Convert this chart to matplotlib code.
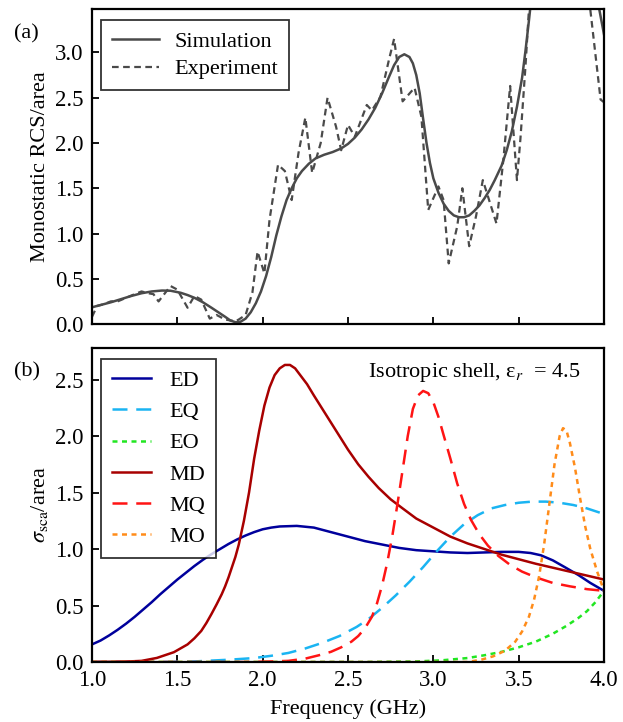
import matplotlib
matplotlib.use("Agg")
import matplotlib.pyplot as plt

plt.rcParams['font.family'] = ['Liberation Serif', 'DejaVu Serif']
plt.rcParams['mathtext.fontset'] = 'stix'
plt.rcParams['font.size'] = 16

# %% panel (a): monostatic RCS
sim_f = [1.00, 1.05, 1.11, 1.17, 1.23, 1.29, 1.35, 1.41, 1.46, 1.52, 1.56, 1.60, 1.65,
         1.70, 1.74, 1.78, 1.81, 1.84, 1.87, 1.90, 1.93, 1.96, 1.99, 2.02, 2.05, 2.08,
         2.11, 2.14, 2.17, 2.20, 2.23, 2.27, 2.31, 2.36, 2.41, 2.46, 2.50, 2.54, 2.58,
         2.62, 2.66, 2.70, 2.74, 2.77, 2.80, 2.83, 2.86, 2.88, 2.90, 2.92, 2.94, 2.96,
         2.98, 3.00, 3.03, 3.06, 3.09, 3.12, 3.15, 3.18, 3.21, 3.24, 3.27, 3.30, 3.33,
         3.36, 3.40, 3.43, 3.46, 3.49, 3.52, 3.54, 3.56, 3.58, 3.65, 3.80, 3.92, 3.96,
         4.00]
sim_rcs = [0.185, 0.21, 0.24, 0.275, 0.31, 0.34, 0.36, 0.37, 0.368, 0.345, 0.32, 0.29, 0.24,
           0.18, 0.13, 0.08, 0.04, 0.02, 0.025, 0.06, 0.13, 0.23, 0.36, 0.53, 0.74, 0.98,
           1.19, 1.37, 1.50, 1.61, 1.69, 1.77, 1.83, 1.87, 1.90, 1.94, 1.99, 2.06, 2.15,
           2.26, 2.39, 2.55, 2.73, 2.86, 2.95, 2.98, 2.95, 2.88, 2.75, 2.55, 2.27, 2.00,
           1.78, 1.61, 1.45, 1.33, 1.25, 1.20, 1.18, 1.18, 1.20, 1.25, 1.31, 1.39, 1.48,
           1.59, 1.75, 1.92, 2.13, 2.40, 2.72, 3.02, 3.35, 3.70, 4.5, 5.0, 4.3, 3.6,
           3.2]

exp_f = [1.00, 1.03, 1.07, 1.11, 1.15, 1.20, 1.25, 1.29, 1.33, 1.36, 1.39, 1.46, 1.50,
         1.56, 1.60, 1.64, 1.69, 1.73, 1.78, 1.84, 1.86, 1.90, 1.94, 1.97, 2.01, 2.04,
         2.09, 2.13, 2.17, 2.21, 2.25, 2.29, 2.34, 2.38, 2.43, 2.46, 2.50, 2.54, 2.61,
         2.64, 2.69, 2.74, 2.77, 2.82, 2.89, 2.93, 2.97, 3.03, 3.06, 3.09, 3.14, 3.17,
         3.21, 3.25, 3.29, 3.32, 3.37, 3.41, 3.45, 3.47, 3.49, 3.51, 3.54, 3.56, 3.65,
         3.80, 3.92, 3.98, 4.00]
exp_rcs = [0.08, 0.20, 0.22, 0.25, 0.25, 0.29, 0.33, 0.36, 0.34, 0.33, 0.25, 0.42, 0.38,
           0.18, 0.31, 0.27, 0.06, 0.10, 0.05, 0.03, 0.05, 0.10, 0.35, 0.80, 0.56, 1.15,
           1.76, 1.69, 1.37, 1.89, 2.28, 1.67, 2.00, 2.50, 2.18, 1.92, 2.20, 2.07, 2.42,
           2.36, 2.51, 2.92, 3.15, 2.46, 2.61, 2.29, 1.26, 1.52, 1.37, 0.67, 1.08, 1.50,
           0.86, 1.19, 1.59, 1.41, 1.11, 1.81, 2.63, 2.11, 1.59, 2.04, 2.85, 3.47, 4.5,
           4.8, 3.47, 2.48, 2.45]

# %% panel (b): multipole decomposition
ed_f = [1.00, 1.05, 1.10, 1.15, 1.20, 1.25, 1.30, 1.35, 1.40, 1.45, 1.50, 1.55, 1.60,
        1.65, 1.70, 1.75, 1.80, 1.85, 1.90, 1.95, 2.00, 2.05, 2.10, 2.20, 2.30, 2.40,
        2.50, 2.60, 2.70, 2.80, 2.90, 3.00, 3.10, 3.20, 3.30, 3.40, 3.50, 3.57, 3.63,
        3.70, 3.77, 3.85, 3.92, 4.00]
ed = [0.156, 0.19, 0.235, 0.285, 0.34, 0.40, 0.465, 0.53, 0.60, 0.665, 0.73, 0.79, 0.85,
      0.905, 0.955, 1.00, 1.045, 1.085, 1.12, 1.15, 1.175, 1.19, 1.20, 1.205, 1.19, 1.15,
      1.11, 1.07, 1.04, 1.01, 0.99, 0.98, 0.97, 0.965, 0.97, 0.975, 0.975, 0.965, 0.945,
      0.90, 0.84, 0.77, 0.70, 0.63]

eq_f = [1.00, 1.40, 1.60, 1.80, 1.95, 2.05, 2.15, 2.25, 2.35, 2.45, 2.55, 2.62, 2.70,
        2.78, 2.86, 2.94, 3.02, 3.10, 3.18, 3.26, 3.34, 3.42, 3.50, 3.58, 3.66, 3.74,
        3.82, 3.90, 4.00]
eq = [0.0, 0.0, 0.005, 0.02, 0.035, 0.055, 0.08, 0.12, 0.17, 0.23, 0.31, 0.38, 0.48,
      0.59, 0.71, 0.84, 0.98, 1.11, 1.22, 1.30, 1.36, 1.39, 1.41, 1.42, 1.42, 1.41,
      1.39, 1.36, 1.31]

eo_f = [1.00, 2.60, 2.90, 3.05, 3.20, 3.30, 3.40, 3.50, 3.60, 3.70, 3.78, 3.85, 3.90,
        3.95, 4.00]
eo = [0.0, 0.0, 0.005, 0.015, 0.035, 0.06, 0.09, 0.13, 0.18, 0.25, 0.32, 0.39, 0.45,
      0.53, 0.63]

md_f = [1.00, 1.20, 1.29, 1.38, 1.48, 1.56, 1.60, 1.64, 1.67, 1.70, 1.73, 1.76, 1.78,
        1.80, 1.82, 1.84, 1.86, 1.89, 1.92, 1.95, 1.98, 2.01, 2.04, 2.07, 2.10, 2.13,
        2.16, 2.19, 2.22, 2.26, 2.30, 2.35, 2.40, 2.45, 2.50, 2.56, 2.62, 2.68, 2.75,
        2.82, 2.90, 3.00, 3.10, 3.20, 3.30, 3.40, 3.50, 3.60, 3.70, 3.80, 3.90, 4.00]
md = [0.0, 0.004, 0.01, 0.036, 0.087, 0.156, 0.21, 0.275, 0.345, 0.425, 0.51, 0.60, 0.67,
      0.75, 0.84, 0.93, 1.04, 1.25, 1.50, 1.80, 2.05, 2.27, 2.43, 2.54, 2.60, 2.63,
      2.63, 2.60, 2.54, 2.46, 2.36, 2.24, 2.12, 2.00, 1.88, 1.75, 1.64, 1.54, 1.44,
      1.36, 1.27, 1.19, 1.11, 1.05, 1.00, 0.95, 0.91, 0.87, 0.835, 0.80, 0.765, 0.73]

mq_f = [1.00, 1.90, 2.05, 2.15, 2.25, 2.33, 2.40, 2.46, 2.52, 2.56, 2.60, 2.64, 2.67,
        2.70, 2.73, 2.76, 2.79, 2.82, 2.85, 2.88, 2.91, 2.94, 2.97, 3.00, 3.03, 3.06,
        3.10, 3.14, 3.18, 3.22, 3.27, 3.32, 3.38, 3.45, 3.52, 3.60, 3.70, 3.80, 3.90,
        4.00]
mq = [0.0, 0.0, 0.005, 0.01, 0.03, 0.06, 0.09, 0.13, 0.18, 0.23, 0.30, 0.40, 0.52,
      0.68, 0.88, 1.12, 1.40, 1.70, 2.00, 2.24, 2.36, 2.40, 2.38, 2.30, 2.17, 2.01,
      1.80, 1.58, 1.40, 1.26, 1.13, 1.03, 0.94, 0.86, 0.80, 0.75, 0.70, 0.67, 0.645,
      0.63]

mo_f = [1.00, 3.20, 3.28, 3.35, 3.42, 3.48, 3.52, 3.56, 3.59, 3.62, 3.65, 3.68, 3.71,
        3.74, 3.76, 3.78, 3.80, 3.83, 3.86, 3.89, 3.92, 3.96, 4.00]
mo = [0.0, 0.0, 0.02, 0.05, 0.10, 0.18, 0.27, 0.40, 0.55, 0.76, 1.05, 1.40, 1.75,
      2.00, 2.07, 2.05, 1.94, 1.72, 1.45, 1.20, 1.00, 0.80, 0.63]

gray = '#4a4a4a'

# %%
fig = plt.figure(figsize=(6.23, 7.22), dpi=100)
ax1 = fig.add_axes([0.1477, 0.5512, 0.8218, 0.4363])
ax2 = fig.add_axes([0.1477, 0.0831, 0.8218, 0.4349])

ax1.plot(sim_f, sim_rcs, color=gray, lw=1.8, label='Simulation')
ax1.plot(exp_f, exp_rcs, color=gray, lw=1.6, dashes=(3, 2), label='Experiment')
ax1.set_xlim(1, 4)
ax1.set_ylim(0, 3.48)
ax1.set_yticks([0, 0.5, 1.0, 1.5, 2.0, 2.5, 3.0])
ax1.set_yticklabels(['0.0', '0.5', '1.0', '1.5', '2.0', '2.5', '3.0'])
ax1.set_xticks([1.0, 1.5, 2.0, 2.5, 3.0, 3.5, 4.0])
ax1.set_xticklabels([])
ax1.set_ylabel('Monostatic RCS/area')
leg1 = ax1.legend(loc='upper left', bbox_to_anchor=(0.005, 0.985), fancybox=False,
                  edgecolor='black', handlelength=2.1, handletextpad=0.7,
                  borderpad=0.5, labelspacing=0.3, borderaxespad=0.3)
leg1.get_frame().set_linewidth(1.3)

ax2.plot(ed_f, ed, color='#00009c', lw=1.8, label='ED')
ax2.plot(eq_f, eq, color='#1ab4f2', lw=1.8, dashes=(6, 3.5), label='EQ')
ax2.plot(eo_f, eo, color='#22e622', lw=1.8, dashes=(2, 1.8), label='EO')
ax2.plot(md_f, md, color='#a80000', lw=1.8, label='MD')
ax2.plot(mq_f, mq, color='#ff1414', lw=1.8, dashes=(6, 3.5), label='MQ')
ax2.plot(mo_f, mo, color='#ff8c1a', lw=1.8, dashes=(2, 1.8), label='MO')
ax2.set_xlim(1, 4)
ax2.set_ylim(0, 2.78)
ax2.set_yticks([0, 0.5, 1.0, 1.5, 2.0, 2.5])
ax2.set_yticklabels(['0.0', '0.5', '1.0', '1.5', '2.0', '2.5'])
ax2.set_xticks([1.0, 1.5, 2.0, 2.5, 3.0, 3.5, 4.0])
ax2.set_xticklabels(['1.0', '1.5', '2.0', '2.5', '3.0', '3.5', '4.0'])
ax2.set_xlabel('Frequency (GHz)', labelpad=6)
ax2.set_ylabel(r'$\sigma_{\rm sca}$/area')
leg2 = ax2.legend(loc='upper left', bbox_to_anchor=(0.005, 0.985), fancybox=False,
                  edgecolor='black', handlelength=1.75, handletextpad=0.8,
                  borderpad=0.5, labelspacing=0.48, borderaxespad=0.3)
leg2.get_frame().set_linewidth(1.3)
ax2.text(0.955, 0.96, r'Isotropic shell, ε$_{r}$  = 4.5', transform=ax2.transAxes,
         ha='right', va='top')

for ax in (ax1, ax2):
    ax.tick_params(direction='in', length=5, width=1.3, top=False, right=False,
                   labelsize=16.5)
    ax.tick_params(axis='y', pad=6)
    for s in ax.spines.values():
        s.set_linewidth(1.6)
ax2.tick_params(axis='x', pad=6)

fig.text(0.022, 0.947, '(a)', fontsize=16)
fig.text(0.022, 0.478, '(b)', fontsize=16)

plt.savefig('out.png', dpi=100)
